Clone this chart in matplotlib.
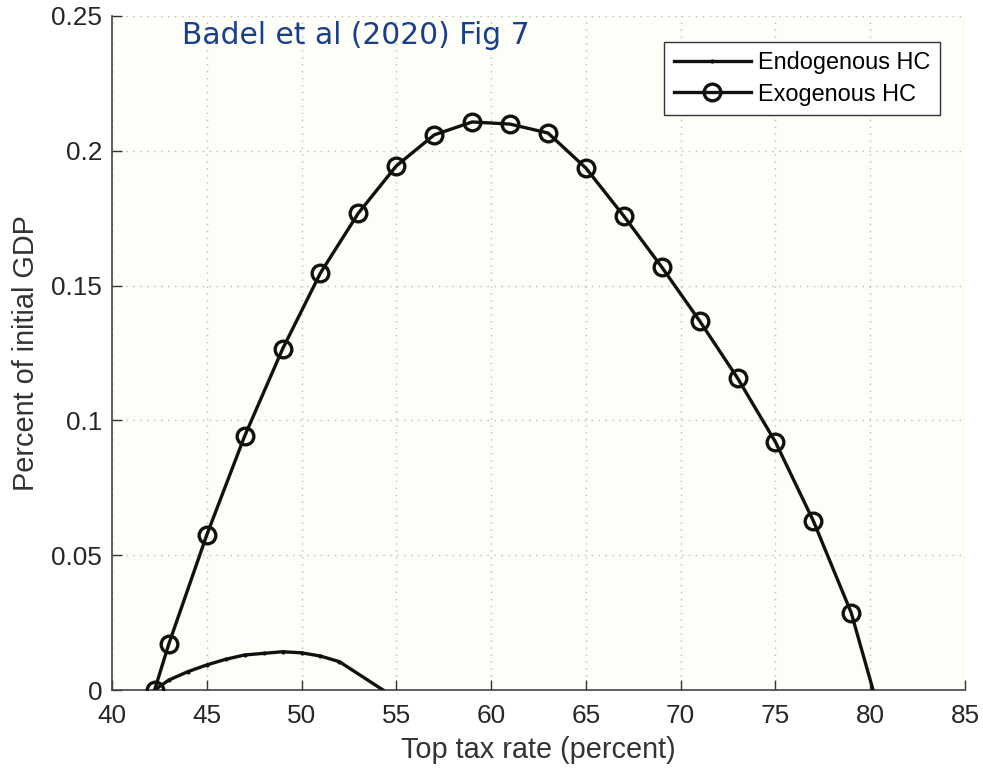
import matplotlib
matplotlib.use("Agg")
import matplotlib.pyplot as plt

# Data
exo_x = [42.25, 43, 45, 47, 49, 51, 53, 55, 57, 59, 61, 63, 65, 67, 69, 71, 73, 75, 77, 79, 80.15]
exo_y = [0.0, 0.0171, 0.0575, 0.0942, 0.1265, 0.1547, 0.1769, 0.1944, 0.2059, 0.2107,
         0.2099, 0.2066, 0.1936, 0.1758, 0.1569, 0.1369, 0.1157, 0.0920, 0.0627, 0.0286, 0.0]
endo_x = [42.25, 43, 44, 45, 46, 47, 48, 49, 50, 51, 52, 54.3]
endo_y = [0.0, 0.0037, 0.0068, 0.0093, 0.0114, 0.0130, 0.0136, 0.0142, 0.0138, 0.0126, 0.0105, 0.0]

xticks = [40, 45, 50, 55, 60, 65, 70, 75, 80, 85]
yticks = [0, 0.05, 0.1, 0.15, 0.2, 0.25]
ytick_labels = ["0", "0.05", "0.1", "0.15", "0.2", "0.25"]

plt.rcParams['font.family'] = ['Liberation Sans', 'DejaVu Sans']

fig = plt.figure(figsize=(9.83, 7.76), dpi=100)
ax = fig.add_axes([0.1139, 0.1108, 0.8678, 0.8686])
ax.set_facecolor('#FEFEF8')

ax.plot(endo_x, endo_y, color='#111111', lw=2.4, marker='.', markersize=4,
        markevery=list(range(1, len(endo_x) - 1)), label='Endogenous HC', zorder=3)
ax.plot(exo_x, exo_y, color='#111111', lw=2.4, marker='o', markersize=12,
        markerfacecolor='none', markeredgewidth=2.4, markeredgecolor='#111111',
        markevery=list(range(0, len(exo_x) - 1)), label='Exogenous HC', zorder=3)

ax.set_xlim(40, 85)
ax.set_ylim(0, 0.25)
ax.set_xticks(xticks)
ax.set_yticks(yticks)
ax.set_yticklabels(ytick_labels)
ax.tick_params(direction='in', length=7, width=1, colors='#333333', labelsize=18.8,
               labelcolor='#262626')
ax.tick_params(axis='x', pad=10)
ax.tick_params(axis='y', pad=7)
for s in ['top', 'right']:
    ax.spines[s].set_visible(False)
for s in ['left', 'bottom']:
    ax.spines[s].set_color('#444444')
    ax.spines[s].set_linewidth(1.2)

ax.grid(True, linestyle=(0, (1, 4)), color='#BBBBBB', linewidth=1.0)
ax.set_axisbelow(True)

ax.set_xlabel('Top tax rate (percent)', fontsize=20.8, color='#333333', labelpad=6)
ax.set_ylabel('Percent of initial GDP', fontsize=20.8, color='#333333', labelpad=8)

ax.text(0.082, 0.993, 'Badel et al (2020) Fig 7', transform=ax.transAxes,
        fontsize=21.4, color='#1A3F8A', family=['DejaVu Sans'], ha='left', va='top')

leg = ax.legend(loc='upper right', bbox_to_anchor=(0.9707, 0.9614), fontsize=16.9,
                frameon=True, fancybox=False, edgecolor='#333333', framealpha=1,
                handlelength=3.3, borderpad=0.4, labelspacing=0.35, handletextpad=0.3,
                borderaxespad=0)
leg.get_frame().set_linewidth(1.0)
leg.get_frame().set_facecolor('white')

fig.savefig('out.png', dpi=100, facecolor='white')
